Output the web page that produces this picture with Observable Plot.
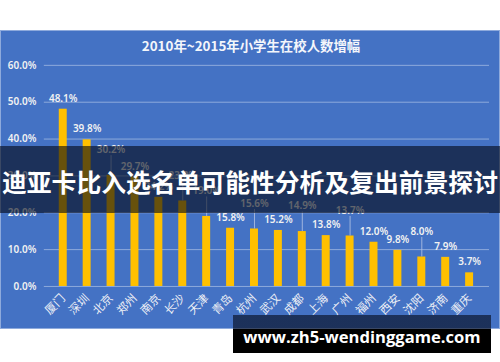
<!DOCTYPE html>
<html><head><meta charset="utf-8">
<script src="https://cdn.jsdelivr.net/npm/d3@7"></script>
<script src="https://cdn.jsdelivr.net/npm/@observablehq/plot@0.6"></script>
<style>
body{margin:0;background:#fff;}
#wrap{position:relative;width:500px;height:362px;overflow:hidden;background:#fff;font-family:"Noto Sans CJK SC","Noto Sans",sans-serif;}
#chart{position:absolute;left:0;top:30px;width:498px;height:297px;background:#4472c4;border:1px solid #8eaadc;}
#chart svg{position:absolute;left:-1px;top:-1px;}
#title{position:absolute;left:0;top:5px;width:500px;text-align:center;color:#f4f6fb;font-weight:bold;font-size:13.4px;line-height:18px;z-index:2;}
#banner{position:absolute;left:0;top:146px;width:500px;height:67px;background:rgba(2,6,20,0.6);color:#fff;font-weight:bold;font-size:24.8px;line-height:70px;text-align:center;white-space:nowrap;z-index:3;}
#wm{position:absolute;left:233px;top:315px;width:258px;height:38px;background:linear-gradient(to bottom,rgba(2,6,20,0.6) 0,rgba(2,6,20,0.6) 14px,#000 14px);color:#fff;font-family:"Open Sans","DejaVu Sans",sans-serif;font-weight:bold;font-size:16.6px;line-height:44px;text-align:center;white-space:nowrap;z-index:3;}
</style>
</head><body>
<div id="wrap">
  <div id="chart"><div id="title"></div></div>
  <div id="banner"></div>
  <div id="wm"></div>
</div>
<script>
const titleText = "2010年~2015年小学生在校人数增幅";
const bannerText = "迪亚卡比入选名单可能性分析及复出前景探讨";
const watermark = "www.zh5-wendinggame.com";
const cities = ["厦门","深圳","北京","郑州","南京","长沙","天津","青岛","杭州","武汉","成都","上海","广州","福州","西安","沈阳","济南","重庆"];
const values = [48.1,39.8,30.2,29.7,24.2,23.2,19.0,15.8,15.6,15.2,14.9,13.8,13.7,12.0,9.8,8.0,7.9,3.7];
const callout = [false,false,true,false,false,true,true,false,true,false,true,false,true,false,false,true,false,false];
const yTicks = [0,10,20,30,40,50,60];

document.getElementById("title").textContent = titleText;
document.getElementById("banner").textContent = bannerText;
document.getElementById("wm").textContent = watermark;

const data = cities.map((c,i)=>({city:c, value:values[i], callout:callout[i]}));
const fmt = v => v.toFixed(1) + "%";

const chart = Plot.plot({
  width: 500, height: 299,
  marginTop: 35, marginBottom: 42, marginLeft: 44, marginRight: 9,
  style: {background: "transparent", color: "#f2f2f2", fontFamily: "'Noto Sans','Noto Sans CJK SC',sans-serif", overflow: "visible"},
  x: {domain: cities, paddingInner: 0.66, paddingOuter: 0.33, label: null},
  y: {domain: [0,60], label: null},
  marks: [
    Plot.gridY(yTicks, {stroke: "#8eaadc", strokeOpacity: 1, strokeWidth: 1}),
    Plot.axisY(yTicks, {tickFormat: fmt, tickSize: 0, tickPadding: 8, fontSize: 10, fontWeight: 600, fill: "#f2f2f2", label: null}),
    Plot.axisX({tickRotate: -45, tickSize: 0, tickPadding: 10, fontSize: 11.5, fill: "#eef0f6", label: null, fontFamily: "'Noto Sans CJK SC',sans-serif"}),
    Plot.barY(data, {x: "city", y: "value", fill: "#ffc000"}),
    Plot.ruleX(data.filter(d=>d.callout), {x: "city", y1: "value", y2: d => d.value + 5.3, stroke: "#b8c6e4", strokeWidth: 0.8}),
    Plot.text(data, {x: "city", y: d => d.value + (d.callout ? 6.9 : 2.9), text: d => fmt(d.value), fill: "#f2f2f2", fontSize: 10, fontWeight: 600})
  ]
});
document.getElementById("chart").appendChild(chart);
</script>
</body></html>
